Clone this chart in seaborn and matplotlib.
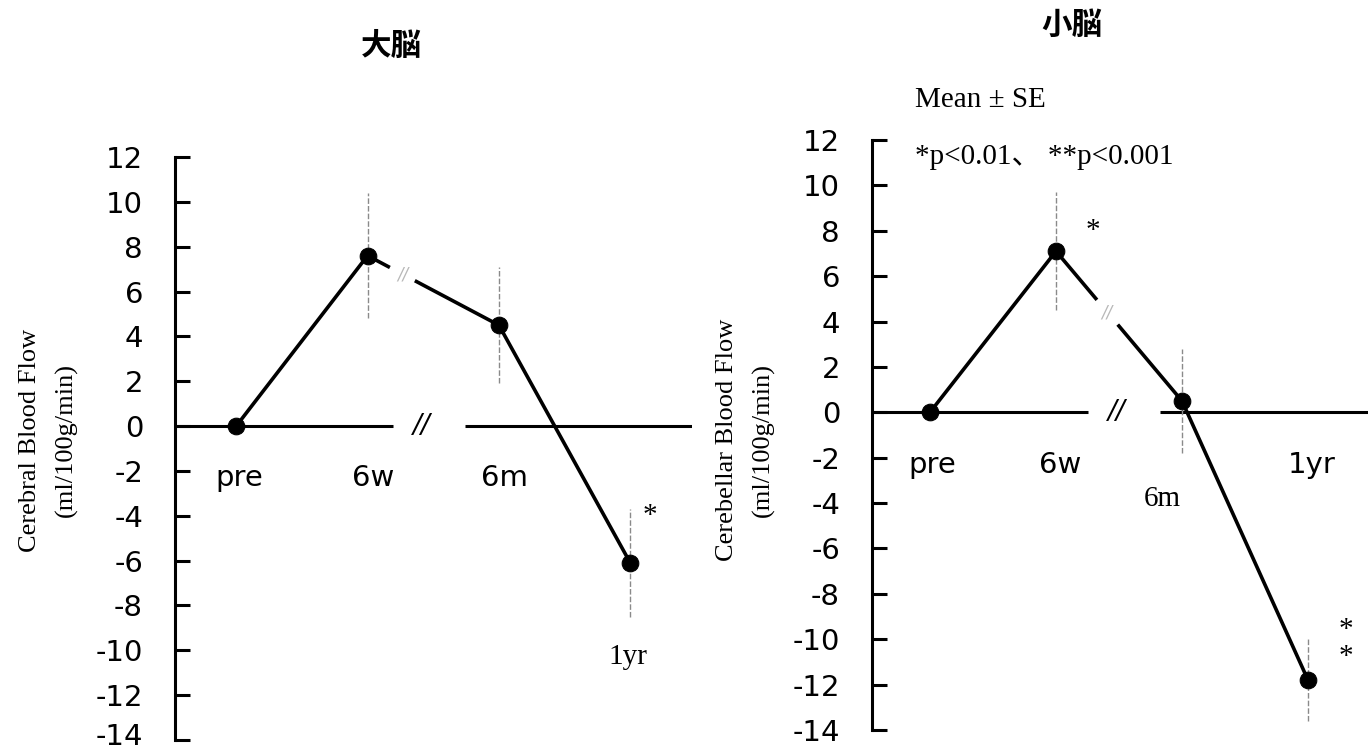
import numpy as np
import pandas as pd
import matplotlib
matplotlib.use("Agg")
import matplotlib.pyplot as plt
import matplotlib.transforms as mtransforms
import seaborn as sns

# ---------------- data ----------------
timepoints = ["pre", "6w", "6m", "1yr"]
cerebral_mean = [0.0, 7.6, 4.5, -6.1]
cerebral_se = [0.0, 2.8, 2.6, 2.4]
cerebellar_mean = [0.0, 7.1, 0.5, -11.8]
cerebellar_se = [0.0, 2.6, 2.3, 1.8]
yticks = list(range(-14, 13, 2))
titles = ["大脳", "小脳"]

sns.set_theme(style="white")
plt.rcParams["font.family"] = ["DejaVu Sans", "Noto Sans CJK JP"]
plt.rcParams["text.color"] = "black"
plt.rcParams["axes.labelcolor"] = "black"
SERIF = ["Liberation Serif", "Noto Sans CJK JP"]
CJK = ["Noto Sans CJK JP", "DejaVu Sans"]

W, H = 1368, 753
fig = plt.figure(figsize=(W / 100, H / 100), dpi=100)


def fx(px):
    return px / W


def fy(py):
    return 1 - py / H


ax1 = fig.add_axes([fx(175), fy(740), (692 - 175) / W, (740 - 157) / H])
ax2 = fig.add_axes([fx(872), fy(730), (1368 - 872) / W, (730 - 140) / H])


def panel(ax, means, ses, xlim, zero_gap, line_gap, slash_x):
    pos = np.arange(len(timepoints))
    df = pd.DataFrame({"x": pos, "y": means})
    eb = ax.errorbar(pos[1:], means[1:], yerr=ses[1:], fmt="none",
                     ecolor="#8a8a8a", elinewidth=1.0, capsize=0, zorder=2)
    for lc in eb[2]:
        lc.set_linestyle((0, (4, 1.5)))
    sns.lineplot(data=df, x="x", y="y", ax=ax, color="black", lw=2.6,
                 marker="o", markersize=12, markeredgecolor="black",
                 markerfacecolor="black", zorder=3, legend=False)
    # zero reference with break
    ax.hlines(0, xlim[0], zero_gap[0], color="black", lw=2.2, zorder=1)
    ax.hlines(0, zero_gap[1], xlim[1], color="black", lw=2.2, zorder=1)
    ax.text(slash_x, 0, "//", ha="center", va="center", fontsize=19,
            style="italic", color="black")
    # break in data line between 6w and 6m
    m1, m2 = means[1], means[2]
    xa, xb = line_gap
    ya = m1 + (m2 - m1) * (xa - 1)
    yb = m1 + (m2 - m1) * (xb - 1)
    ax.plot([xa, xb], [ya, yb], color="white", lw=8, solid_capstyle="butt",
            zorder=4)
    ax.text((xa + xb) / 2, (ya + yb) / 2, "//", ha="center", va="center",
            fontsize=12, color="#b8b8b8", zorder=5, style="italic")

    ax.set_xlim(*xlim)
    ax.set_ylim(-14, 12)
    ax.set_yticks(yticks)
    ax.set_yticklabels([str(t) for t in yticks])
    ax.set_xticks([])
    ax.set_xlabel("")
    ax.set_ylabel("")
    for s in ["top", "right", "bottom"]:
        ax.spines[s].set_visible(False)
    ax.spines["left"].set_linewidth(2.2)
    ax.spines["left"].set_color("black")
    ax.tick_params(axis="y", direction="in", length=11, width=2.2,
                   labelsize=21, pad=23, left=True, colors="black")
    ax.set_facecolor("white")


panel(ax1, cerebral_mean, cerebral_se, (-0.466, 3.47), (1.19, 1.74),
      (1.17, 1.36), 1.41)
panel(ax2, cerebellar_mean, cerebellar_se, (-0.46, 3.476), (1.254, 1.825),
      (1.325, 1.49), 1.484)

# keep the bottom tick label of the left panel inside the canvas
lab = ax1.yaxis.get_major_ticks()[0].label1
lab.set_va("bottom")
lab.set_transform(lab.get_transform() +
                  mtransforms.ScaledTranslation(0, -8 / 72, fig.dpi_scale_trans))

# category labels, left panel
ax1.text(0.02, -2.3, timepoints[0], ha="center", va="center", fontsize=21)
ax1.text(1.04, -2.3, timepoints[1], ha="center", va="center", fontsize=21)
ax1.text(2.04, -2.3, timepoints[2], ha="center", va="center", fontsize=21)
ax1.text(2.98, -10.3, timepoints[3], ha="center", va="center", fontsize=21,
         family=SERIF)
ax1.text(3.15, -4.0, "*", ha="center", va="center", fontsize=21,
         family=SERIF)

# category labels, right panel
ax2.text(0.02, -2.33, timepoints[0], ha="center", va="center", fontsize=21)
ax2.text(1.03, -2.33, timepoints[1], ha="center", va="center", fontsize=21)
ax2.text(3.03, -2.33, timepoints[3], ha="center", va="center", fontsize=21)
ax2.text(1.84, -3.8, timepoints[2], ha="center", va="center", fontsize=21,
         family=SERIF)
ax2.text(1.29, 8.0, "*", ha="center", va="center", fontsize=21, family=SERIF)
ax2.text(3.3, -9.6, "*", ha="center", va="center", fontsize=21, family=SERIF)
ax2.text(3.3, -10.8, "*", ha="center", va="center", fontsize=21, family=SERIF)

# titles
fig.text(fx(391), fy(46), titles[0], ha="center", va="center", fontsize=22,
         fontweight="bold", family=CJK)
fig.text(fx(1072), fy(25), titles[1], ha="center", va="center", fontsize=22,
         fontweight="bold", family=CJK)

# y labels
fig.text(fx(30), fy(440), "Cerebral Blood Flow", rotation=90, ha="center",
         va="center", fontsize=19, family=SERIF)
fig.text(fx(66), fy(440), "(ml/100g/min)", rotation=90, ha="center",
         va="center", fontsize=19, family=SERIF)
fig.text(fx(727), fy(440), "Cerebellar Blood Flow", rotation=90, ha="center",
         va="center", fontsize=19, family=SERIF)
fig.text(fx(763), fy(440), "(ml/100g/min)", rotation=90, ha="center",
         va="center", fontsize=19, family=SERIF)

# notes
fig.text(fx(915), fy(100), "Mean \u00b1 SE", ha="left", va="center",
         fontsize=21, family=SERIF)
fig.text(fx(915), fy(157), "*p<0.01\u3001 **p<0.001", ha="left",
         va="center", fontsize=21, family=SERIF)

fig.savefig("out.png", dpi=100, facecolor="white")
